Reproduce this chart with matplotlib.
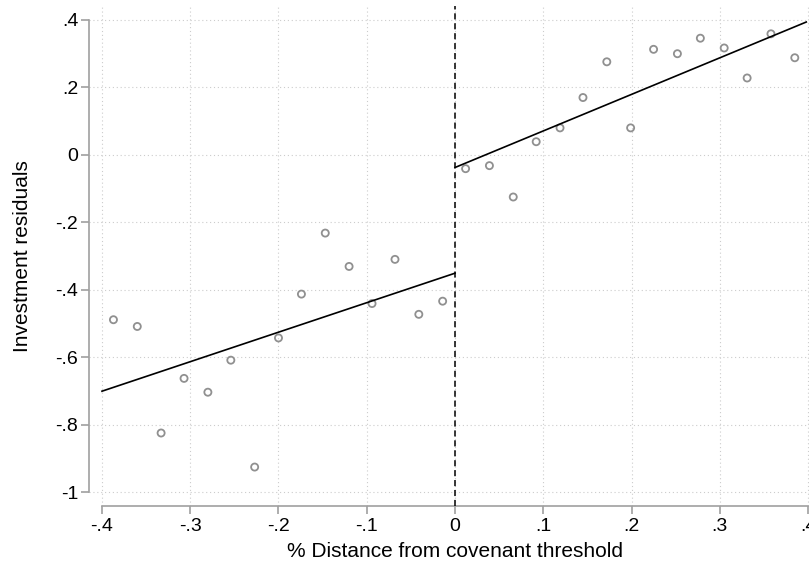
import numpy as np
import matplotlib.pyplot as plt

plt.rcParams['font.family'] = ['Liberation Sans', 'DejaVu Sans']

###############################################################################
# Binned investment residuals around the covenant threshold
###############################################################################
x_left = [-0.387, -0.360, -0.333, -0.307, -0.280, -0.254, -0.227, -0.200,
          -0.174, -0.147, -0.120, -0.094, -0.068, -0.041, -0.014]
y_left = [-0.489, -0.509, -0.825, -0.663, -0.704, -0.609, -0.926, -0.543,
          -0.413, -0.232, -0.331, -0.441, -0.310, -0.473, -0.434]

x_right = [0.012, 0.039, 0.066, 0.092, 0.119, 0.145, 0.172, 0.199,
           0.225, 0.252, 0.278, 0.305, 0.331, 0.358, 0.385]
y_right = [-0.041, -0.032, -0.125, 0.039, 0.080, 0.170, 0.276, 0.080,
           0.313, 0.300, 0.346, 0.317, 0.228, 0.359, 0.288]

# linear fits on each side (end points)
fit_left_x = [-0.4, 0.0]
fit_left_y = [-0.701, -0.351]
fit_right_x = [0.0, 0.398]
fit_right_y = [-0.0375, 0.394]

x_ticks = [-0.4, -0.3, -0.2, -0.1, 0, 0.1, 0.2, 0.3, 0.4]
x_ticklabels = ['-.4', '-.3', '-.2', '-.1', '0', '.1', '.2', '.3', '.4']
y_ticks = [-1, -0.8, -0.6, -0.4, -0.2, 0, 0.2, 0.4]
y_ticklabels = ['-1', '-.8', '-.6', '-.4', '-.2', '0', '.2', '.4']

###############################################################################
# Plot
###############################################################################
fig = plt.figure(figsize=(8.09, 5.62), dpi=100)
ax = fig.add_axes([89/809, 56/562, 732/809, 500/562])

grid_col = '#cccccc'
for xt in x_ticks:
    ax.axvline(xt, color=grid_col, lw=0.8, ls=(0, (1, 2.5)), zorder=0)
for yt in y_ticks:
    ax.axhline(yt, color=grid_col, lw=0.8, ls=(0, (1, 2.5)), zorder=0)

ax.scatter(x_left, y_left, s=26, facecolors='none', edgecolors='#909090',
           linewidths=1.3, zorder=3)
ax.scatter(x_right, y_right, s=26, facecolors='none', edgecolors='#909090',
           linewidths=1.3, zorder=3)
ax.plot(fit_left_x, fit_left_y, color='black', lw=1.2, zorder=4)
ax.plot(fit_right_x, fit_right_y, color='black', lw=1.2, zorder=4)
ax.axvline(0, color='black', lw=1.1, ls=(0, (4, 2.5)), zorder=5)

ax.set_xlim(-0.4147, 0.4147)
ax.set_ylim(-1.0415, 0.4415)

ax.set_xticks(x_ticks)
ax.set_xticklabels(x_ticklabels)
ax.set_yticks(y_ticks)
ax.set_yticklabels(y_ticklabels)

for s in ['top', 'right']:
    ax.spines[s].set_visible(False)
for s in ['left', 'bottom']:
    ax.spines[s].set_color('#a0a0a0')
    ax.spines[s].set_linewidth(1.2)
ax.spines['bottom'].set_bounds(-0.4, 0.4)
ax.spines['left'].set_bounds(-1, 0.4)

ax.tick_params(axis='both', colors='#a0a0a0', labelcolor='black',
               length=5.8, width=1.2, labelsize=14)
ax.tick_params(axis='y', pad=2)
ax.tick_params(axis='x', pad=3)

ax.set_xlabel('% Distance from covenant threshold', fontsize=15, labelpad=5)
ax.set_ylabel('Investment residuals', fontsize=15, labelpad=17)

fig.savefig('out.png', dpi=100)
